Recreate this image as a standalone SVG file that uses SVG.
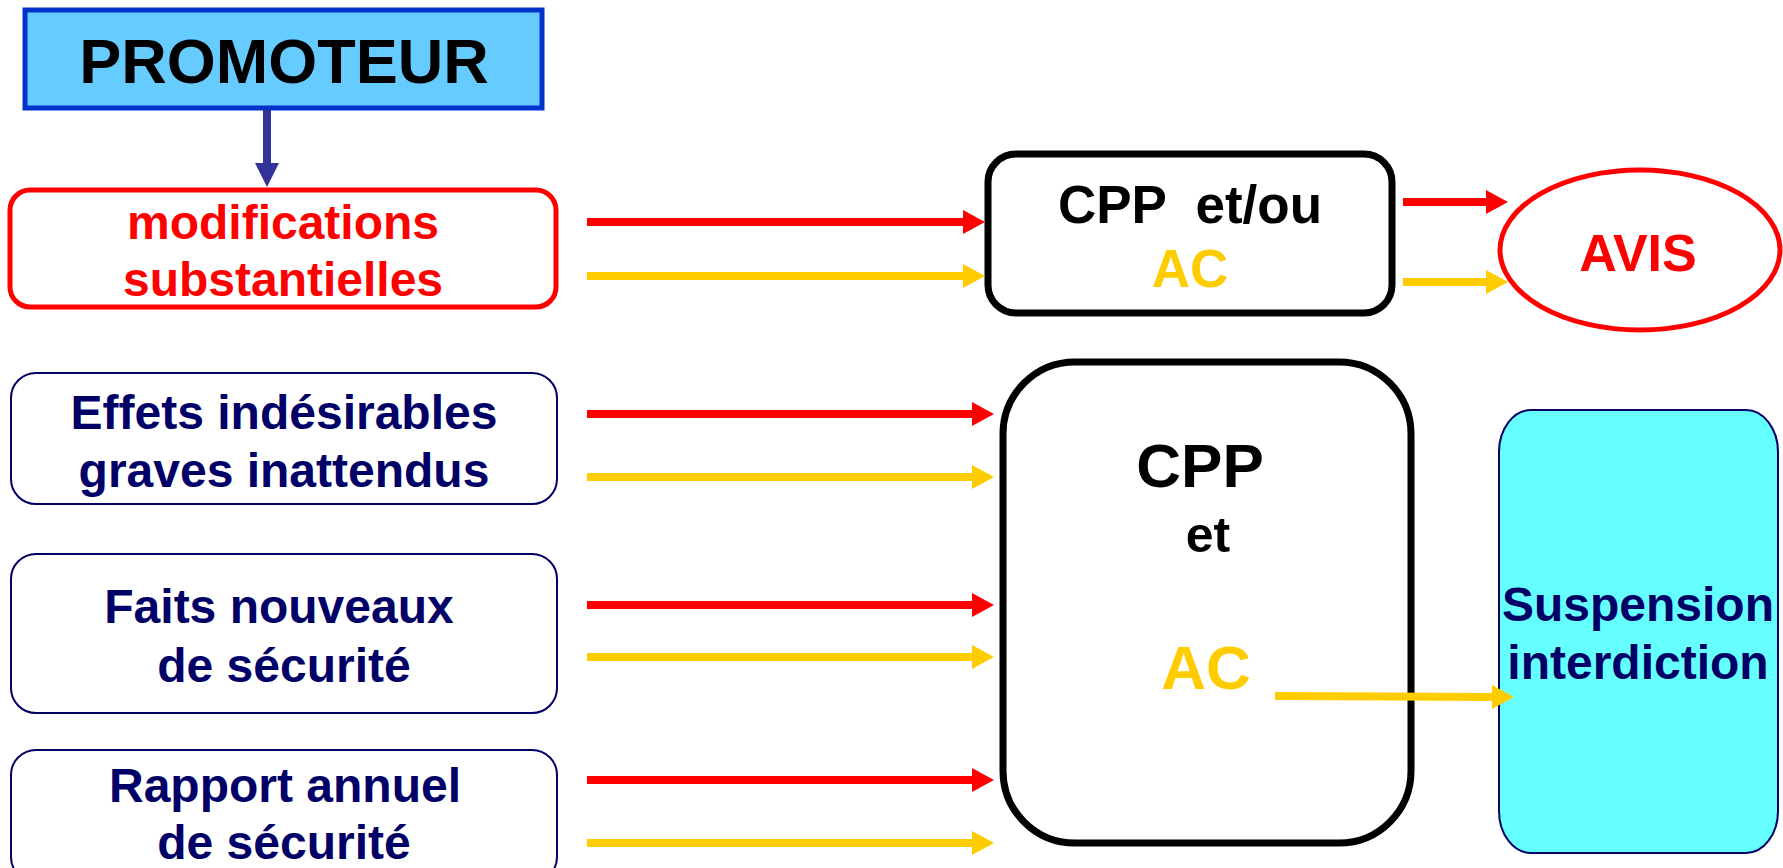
<svg xmlns="http://www.w3.org/2000/svg" width="1783" height="868" viewBox="0 0 1783 868">
<style>
text{font-family:"Liberation Sans",Arial,sans-serif;font-weight:bold;text-anchor:middle}
.navy{fill:#000066}
.red{fill:#ff0000}
.gold{fill:#ffcc00}
.blk{fill:#000000}
.ln-r{stroke:#ff0000;stroke-width:8;fill:none;marker-end:url(#hr)}
.ln-y{stroke:#ffcc00;stroke-width:8;fill:none;marker-end:url(#hy)}
.src{fill:#ffffff;stroke:#000066;stroke-width:2}
</style>
<defs>
<marker id="hr" markerUnits="userSpaceOnUse" markerWidth="22" markerHeight="24" refX="0" refY="12" orient="auto" overflow="visible"><path d="M0,0 L22,12 L0,24 Z" fill="#ff0000"/></marker>
<marker id="hy" markerUnits="userSpaceOnUse" markerWidth="22" markerHeight="24" refX="0" refY="12" orient="auto" overflow="visible"><path d="M0,0 L22,12 L0,24 Z" fill="#ffcc00"/></marker>
<marker id="hb" markerUnits="userSpaceOnUse" markerWidth="24" markerHeight="24" refX="0" refY="12" orient="auto" overflow="visible"><path d="M0,0 L24,12 L0,24 Z" fill="#333399"/></marker>
</defs>
<rect width="1783" height="868" fill="#ffffff"/>

<g id="promoteur">
<rect x="25" y="10" width="517" height="98" fill="#66ccff" stroke="#0033cc" stroke-width="5"/>
<text x="284" y="83" font-size="63" class="blk">PROMOTEUR</text>
</g>

<g id="modifications">
<rect x="10" y="190" width="546" height="117" rx="20" ry="20" fill="#ffffff" stroke="#ff0000" stroke-width="5"/>
<text x="283" y="239" font-size="48" class="red">modifications</text>
<text x="283" y="296" font-size="48" class="red">substantielles</text>
</g>

<g id="effets">
<rect x="11" y="373" width="546" height="131" rx="25" ry="25" class="src"/>
<text x="284" y="429" font-size="48" class="navy">Effets indésirables</text>
<text x="284" y="487" font-size="48" class="navy">graves inattendus</text>
</g>

<g id="faits">
<rect x="11" y="554" width="546" height="159" rx="25" ry="25" class="src"/>
<text x="279" y="623" font-size="48" class="navy">Faits nouveaux</text>
<text x="284" y="682" font-size="48" class="navy">de sécurité</text>
</g>

<g id="rapport">
<rect x="11" y="750" width="546" height="132" rx="25" ry="25" class="src"/>
<text x="285" y="802" font-size="48" class="navy">Rapport annuel</text>
<text x="284" y="859" font-size="48" class="navy">de sécurité</text>
</g>

<g id="cpp-etou">
<rect x="988" y="154" width="404" height="159" rx="28" ry="28" fill="#ffffff" stroke="#000000" stroke-width="7"/>
<text x="1190" y="223" font-size="53" class="blk" xml:space="preserve">CPP  et/ou</text>
<text x="1190" y="287" font-size="53" class="gold">AC</text>
</g>

<g id="cpp-et-ac">
<rect x="1003" y="362" width="408" height="481" rx="72" ry="72" fill="#ffffff" stroke="#000000" stroke-width="7"/>
<text x="1200" y="487" font-size="62" class="blk">CPP</text>
<text x="1208" y="552" font-size="50" class="blk">et</text>
<text x="1206" y="689" font-size="62" class="gold">AC</text>
</g>

<g id="avis">
<ellipse cx="1640" cy="250" rx="140" ry="80" fill="#ffffff" stroke="#ff0000" stroke-width="5"/>
<text x="1638" y="271" font-size="52" class="red">AVIS</text>
</g>

<g id="suspension">
<rect x="1499" y="410" width="279" height="443" rx="32" ry="42" fill="#66ffff" stroke="#000066" stroke-width="2"/>
<text x="1638" y="621" font-size="48" class="navy">Suspension</text>
<text x="1638" y="679" font-size="48" class="navy">interdiction</text>
</g>

<g id="connectors">
<line x1="267" y1="110" x2="267" y2="163" stroke="#333399" stroke-width="8" marker-end="url(#hb)"/>
<line class="ln-r" x1="587" y1="222" x2="963" y2="222"/>
<line class="ln-y" x1="587" y1="276" x2="963" y2="276"/>
<line class="ln-r" x1="587" y1="414" x2="972" y2="414"/>
<line class="ln-y" x1="587" y1="477" x2="972" y2="477"/>
<line class="ln-r" x1="587" y1="605" x2="972" y2="605"/>
<line class="ln-y" x1="587" y1="657" x2="972" y2="657"/>
<line class="ln-r" x1="587" y1="780" x2="972" y2="780"/>
<line class="ln-y" x1="587" y1="843" x2="972" y2="843"/>
<line class="ln-r" x1="1403" y1="202" x2="1486" y2="202"/>
<line class="ln-y" x1="1403" y1="282" x2="1486" y2="282"/>
<line class="ln-y" x1="1275" y1="696" x2="1492" y2="697"/>
</g>
</svg>
